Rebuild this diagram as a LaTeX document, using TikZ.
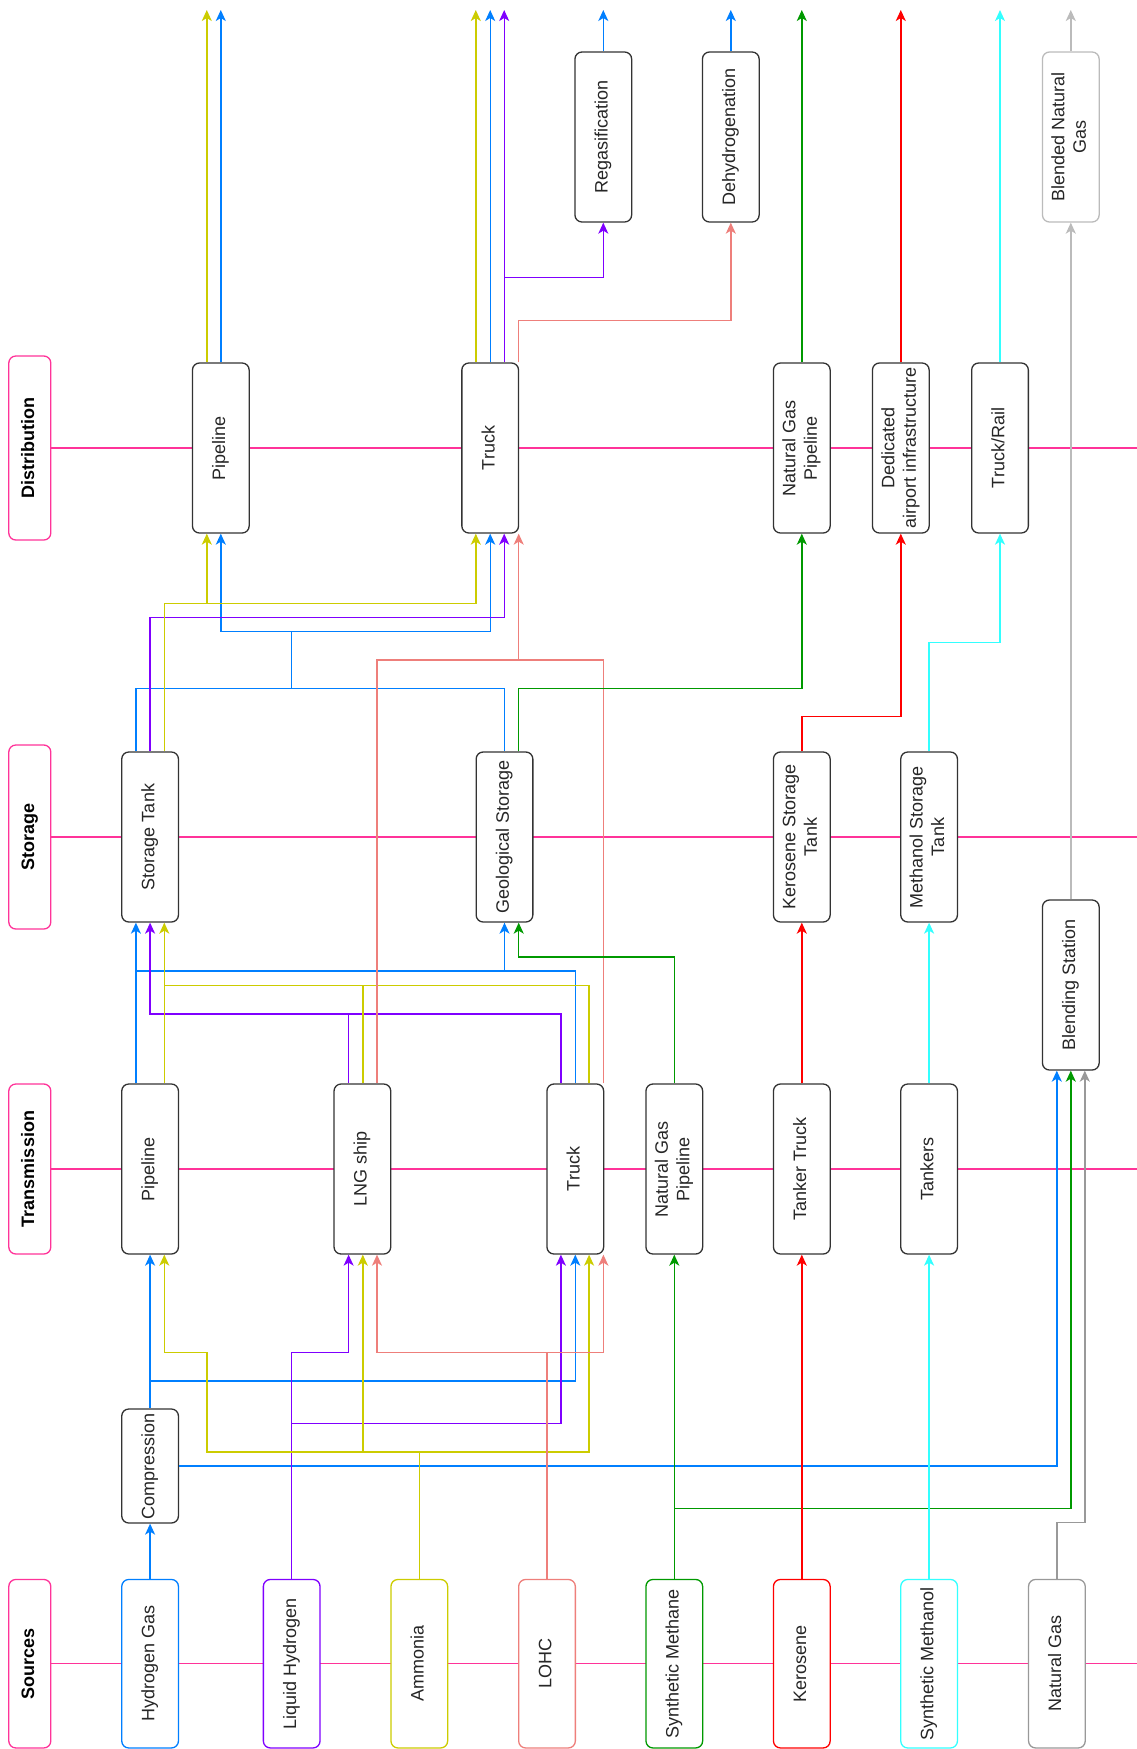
\documentclass[tikz,border=0pt]{standalone}
\usepackage{fontspec}
\setmainfont{Liberation Sans}
\usepackage{graphicx}
\usetikzlibrary{arrows.meta}
\pgfdeclarelayer{bg}
\pgfdeclarelayer{fg}
\pgfsetlayers{bg,main,fg}
\definecolor{cblue}{HTML}{007FFF}
\definecolor{cpurp}{HTML}{7F00FF}
\definecolor{cyel}{HTML}{CCCC00}
\definecolor{csal}{HTML}{EE7F7B}
\definecolor{cgreen}{HTML}{009900}
\definecolor{cred}{HTML}{FF0000}
\definecolor{ccyan}{HTML}{33FFFF}
\definecolor{cgray}{HTML}{999999}
\definecolor{clgray}{HTML}{BBBBBB}
\definecolor{clane}{HTML}{FF3399}
\definecolor{cbox}{HTML}{333333}
\newcommand\rt[1]{\rotatebox{90}{\begin{tabular}{@{}c@{}}#1\end{tabular}}}
\begin{document}
\begin{tikzpicture}[x=1pt,y=-1pt,
  >={Stealth[length=11pt,width=10pt,inset=3pt]},
  box/.style={draw=cbox, line width=1.3pt, rounded corners=7pt, fill=white,
    minimum width=56.7pt, minimum height=170pt, inner sep=0pt, text=black!85,
    font=\fontsize{18}{21.6}\selectfont},
  lanebox/.style={box, draw=clane, minimum width=42pt, text=black},
  srcbox/.style={box, minimum height=168.5pt},
  conn/.style={line width=1.4pt},
  cB/.style={conn, draw=cblue},
  cP/.style={conn, draw=cpurp},
  cY/.style={conn, draw=cyel},
  cS/.style={conn, draw=csal},
  cG/.style={conn, draw=cgreen},
  cR/.style={conn, draw=cred},
  cC/.style={conn, draw=ccyan},
  cGr/.style={conn, draw=cgray},
  cLg/.style={conn, draw=clgray},
  lane/.style={line width=1.4pt, draw=clane}]
\useasboundingbox (0,0) rectangle (1137,1749);
\coordinate (top) at (0,10);
\coordinate (rgt) at (1137,0);

% lane labels
\node[lanebox, minimum height=184pt] (lD) at (29.8,448) {\rt{\bfseries Distribution}};
\node[lanebox, minimum height=184pt] (lS) at (29.8,837) {\rt{\bfseries Storage}};
\node[lanebox] (lT) at (29.8,1169) {\rt{\bfseries Transmission}};
\node[lanebox, minimum height=168.5pt] (lSo) at (29.8,1663.7) {\rt{\bfseries Sources}};

% top row
\node[box] (rg) at (603.3,137) {\rt{Regasification}};
\node[box] (dh) at (730.8,137) {\rt{Dehydrogenation}};
\node[box, draw=clgray] (bng) at (1070.8,137) {\rt{Blended Natural\\Gas}};

% distribution
\node[box] (pD) at (220.8,448) {\rt{Pipeline}};
\node[box] (tD) at (490.2,448) {\rt{Truck}};
\node[box] (ngD) at (801.8,448) {\rt{Natural Gas\\Pipeline}};
\node[box] (daD) at (900.8,448) {\rt{Dedicated\\airport infrastructure}};
\node[box] (trD) at (1000,448) {\rt{Truck/Rail}};

% storage
\node[box] (stS) at (150.1,837) {\rt{Storage Tank}};
\node[box] (geS) at (504.5,837) {\rt{Geological Storage}};
\node[box] (keS) at (801.8,837) {\rt{Kerosene Storage\\Tank}};
\node[box] (meS) at (929.1,837) {\rt{Methanol Storage\\Tank}};
\node[box] (bl) at (1070.8,985) {\rt{Blending Station}};

% transmission
\node[box] (pT) at (150.1,1169) {\rt{Pipeline}};
\node[box] (lngT) at (362.4,1169) {\rt{LNG ship}};
\node[box] (tT) at (575.3,1169) {\rt{Truck}};
\node[box] (ngT) at (674.3,1169) {\rt{Natural Gas\\Pipeline}};
\node[box] (ttT) at (801.8,1169) {\rt{Tanker Truck}};
\node[box] (tkT) at (929.1,1169) {\rt{Tankers}};
\node[box, minimum height=114pt] (cp) at (150.1,1466) {\rt{Compression}};

% sources
\node[srcbox, draw=cblue] (h2) at (150.1,1663.7) {\rt{Hydrogen Gas}};
\node[srcbox, draw=cpurp] (lh2) at (291.7,1663.7) {\rt{Liquid Hydrogen}};
\node[srcbox, draw=cyel] (nh3) at (419.3,1663.7) {\rt{Ammonia}};
\node[srcbox, draw=csal] (lohc) at (547,1663.7) {\rt{LOHC}};
\node[srcbox, draw=cgreen] (sme) at (674.3,1663.7) {\rt{Synthetic Methane}};
\node[srcbox, draw=cred] (ker) at (801.8,1663.7) {\rt{Kerosene}};
\node[srcbox, draw=ccyan] (smo) at (929.1,1663.7) {\rt{Synthetic Methanol}};
\node[srcbox, draw=cgray] (ng) at (1056.9,1663.7) {\rt{Natural Gas}};

\begin{pgfonlayer}{bg}
\draw[lane] (lD.east) -- (lD.east -| rgt);
\draw[lane] (lS.east) -- (lS.east -| rgt);
\draw[lane] (lT.east) -- (lT.east -| rgt);
\draw[lane] (lSo.east) -- (lSo.east -| rgt);
\end{pgfonlayer}

\begin{pgfonlayer}{fg}
% ---- blue
\draw[cB,->] (h2.north) -- (cp.south);
\draw[cB,->] (cp.north) -- (pT.south);
\draw[cB,->] (cp.north |- 0,1381) -| (tT.south);
\draw[cB,->] (cp.east) -| (bl.south -| 1056.8,0);
\draw[cB,->] (pT.north -| 135.9,0) -- (stS.south -| 135.9,0);
\draw[cB,->] (pT.north -| 135.9,0) |- (504.5,971) -- (geS.south);
\draw[cB] (tT.north) |- (504.5,971);
\draw[cB] (stS.north -| 135.9,0) |- (504.5,688.3) -- (geS.north);
\draw[cB,->] (291.5,688.3) -- (291.5,631.7) -| (pD.south);
\draw[cB,->] (291.5,631.7) -| (tD.south);
\draw[cB,->] (pD.north) -- (pD.north |- top);
\draw[cB,->] (tD.north) -- (tD.north |- top);
\draw[cB,->] (rg.north) -- (rg.north |- top);
\draw[cB,->] (dh.north) -- (dh.north |- top);
% ---- purple
\draw[cP,->] (lh2.north) |- (348.6,1352.7) -- (lngT.south -| 348.6,0);
\draw[cP,->] (lh2.north |- 0,1423.7) -| (tT.south -| 560.9,0);
\draw[cP,->] (lngT.north -| 348.6,0) |- (150.1,1014) -- (stS.south);
\draw[cP] (tT.north -| 560.9,0) |- (348.6,1014);
\draw[cP,->] (stS.north) |- (504.2,617.7) -- (tD.south -| 504.2,0);
\draw[cP,->] (tD.north -| 504.2,0) -- (504.2,0 |- top);
\draw[cP,->] (504.2,277.7) -| (rg.south);
% ---- yellow
\draw[cY,->] (nh3.north) |- (206.8,1452) |- (164.3,1352.7) -- (pT.south -| 164.3,0);
\draw[cY,->] (362.8,1452) -- (lngT.south -| 362.8,0);
\draw[cY,->] (nh3.north |- 0,1452) -| (tT.south -| 589.1,0);
\draw[cY,->] (pT.north -| 164.3,0) -- (stS.south -| 164.3,0);
\draw[cY] (tT.north -| 589.1,0) |- (164.3,985.3);
\draw[cY] (lngT.north -| 362.8,0) -- (362.8,985.3);
\draw[cY,->] (stS.north -| 164.3,0) |- (475.8,603.3) -- (tD.south -| 475.8,0);
\draw[cY,->] (206.8,603.3) -- (pD.south -| 206.8,0);
\draw[cY,->] (pD.north -| 206.8,0) -- (206.8,0 |- top);
\draw[cY,->] (tD.north -| 475.8,0) -- (475.8,0 |- top);
% ---- salmon
\draw[cS,->] (lohc.north) |- (377,1352.7) -- (lngT.south -| 377,0);
\draw[cS,->] (lohc.north |- 0,1352.7) -| (tT.south -| 603.4,0);
\draw[cS,->] (lngT.north -| 377,0) |- (518.7,660) -- (tD.south -| 518.7,0);
\draw[cS] (tT.north -| 603.4,0) |- (518.7,660);
\draw[cS,->] (tD.north -| 518.7,0) |- (730.8,320.7) -- (dh.south);
% ---- green
\draw[cG,->] (sme.north) -- (ngT.south);
\draw[cG,->] (sme.north |- 0,1508.7) -| (bl.south);
\draw[cG,->] (ngT.north) |- (518.7,957) -- (geS.south -| 518.7,0);
\draw[cG,->] (geS.north -| 518.7,0) |- (801.8,688.3) -- (ngD.south);
\draw[cG,->] (ngD.north) -- (ngD.north |- top);
% ---- red
\draw[cR,->] (ker.north) -- (ttT.south);
\draw[cR,->] (ttT.north) -- (keS.south);
\draw[cR,->] (keS.north) |- (900.8,716.3) -- (daD.south);
\draw[cR,->] (daD.north) -- (daD.north |- top);
% ---- cyan
\draw[cC,->] (smo.north) -- (tkT.south);
\draw[cC,->] (tkT.north) -- (meS.south);
\draw[cC,->] (meS.north) |- (1000,642.3) -- (trD.south);
\draw[cC,->] (trD.north) -- (trD.north |- top);
% ---- gray
\draw[cGr,->] (ng.north) |- (1084.8,1522.7) -- (bl.south -| 1084.8,0);
\draw[cLg,->] (bl.north) -- (bng.south);
\draw[cLg,->] (bng.north) -- (bng.north |- top);
\end{pgfonlayer}
\end{tikzpicture}
\end{document}
